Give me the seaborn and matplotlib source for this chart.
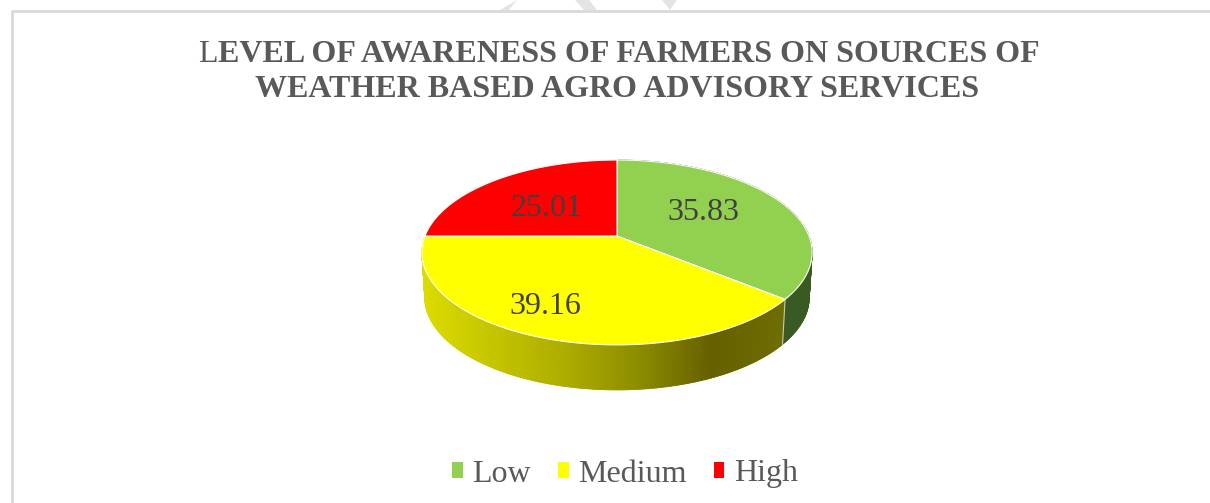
import numpy as np
import seaborn as sns
import matplotlib.pyplot as plt
from matplotlib.colors import LinearSegmentedColormap
from matplotlib.patches import Patch

# Data
categories = ["Low", "Medium", "High"]
values = [35.83, 39.16, 25.01]
slice_colors = ["#92D050", "#FFFF00", "#FF0000"]
title_line1 = "LEVEL OF AWARENESS OF FARMERS ON SOURCES OF"
title_line2 = "WEATHER BASED AGRO ADVISORY SERVICES"

TEXT_GREY = "#595959"
FRAME_GREY = "#D9D9D9"
SERIF = "Liberation Serif"

# pie geometry in image pixels, the tilt gives the near side more height
CX, CY = 617, 236
BX, AY, TILT = 192, 89.5, 0.178
DEPTH = 45

side_cmap = LinearSegmentedColormap.from_list(
    "side", ["#DCDC00", "#C4C400", "#ACAC00", "#8C8C00", "#666000", "#6E6E00"])


def top_ring(theta):
    # theta runs clockwise from 12 o'clock
    x, y = np.sin(theta), np.cos(theta)
    w = 1 + TILT * y
    return CX + BX * x / w, CY - AY * y / w


def bottom_ring(theta):
    x, y = top_ring(theta)
    return CX + (x - CX) * 0.985, y + DEPTH


def draw_side(ax, a0, a1, color=None):
    steps = np.linspace(a0, a1, max(int((a1 - a0) * 90), 2))
    for t0, t1 in zip(steps[:-1], steps[1:]):
        tt = np.array([t0, t1 + 0.003])
        xt, yt = top_ring(tt)
        xb, yb = bottom_ring(tt)
        c = color
        if c is None:
            c = side_cmap((xt.mean() - 420) / 365)
        ax.fill([xt[0], xt[1], xb[1], xb[0]], [yt[0], yt[1], yb[1], yb[0]],
                facecolor=c, edgecolor=c, lw=0.6, zorder=2)


sns.set_theme(style="white")
plt.rcParams["font.family"] = [SERIF, "DejaVu Serif"]

fig, ax = plt.subplots(figsize=(12.10, 5.03), dpi=100)
ax.set_position([0, 0, 1, 1])
ax.set_xlim(0, 1210)
ax.set_ylim(503, 0)
ax.axis("off")

# chart frame, only left and top show in the crop
ax.plot([12, 12, 1210], [503, 11, 11], color=FRAME_GREY, lw=2, zorder=1)

# watermark remains at the top edge
for px, py in [([500, 517, 509, 500], [10, 0, 10, 10]),
               ([575, 589, 597, 584], [0, 0, 10, 10]),
               ([662, 677, 670], [0, 0, 10])]:
    ax.fill(px, py, color="#E4E4E4", lw=0, zorder=1)

# slice angles from the values
edges = np.concatenate([[0], np.cumsum(values)]) / np.sum(values) * 2 * np.pi

# side wall: low is flat dark green, medium has the gradient
draw_side(ax, edges[0], edges[1], color="#3A5A24")
draw_side(ax, edges[1], edges[2])
ax.plot(*zip(top_ring(edges[1]), bottom_ring(edges[1])), color="#C8C8B0", lw=0.8, zorder=3)

# top face
for i, col in enumerate(slice_colors):
    tt = np.linspace(edges[i], edges[i + 1], 200)
    xr, yr = top_ring(tt)
    ax.fill(np.r_[CX, xr], np.r_[CY, yr], facecolor=col, edgecolor="white", lw=0.8, zorder=4)

# data labels
label_pos = [(703, 212), (545, 306), (547, 209)]
for v, (lx, ly) in zip(values, label_pos):
    ax.text(lx, ly, f"{v:.2f}", fontsize=23, color="#404040", ha="center", va="center",
            family=SERIF, zorder=5)

# title, the first L is not bold in the original
first = ax.text(198, 62, title_line1[0], fontsize=23, color=TEXT_GREY, family=SERIF,
                va="baseline", ha="left", zorder=5)
ax.annotate(title_line1[1:], xy=(1, 0), xycoords=first, xytext=(0, 0), textcoords="offset points",
            fontsize=23, fontweight="bold", color=TEXT_GREY, family=SERIF, va="bottom", ha="left")
ax.text(617, 97, title_line2, fontsize=23, fontweight="bold", color=TEXT_GREY, family=SERIF,
        ha="center", va="baseline", zorder=5)

handles = [Patch(facecolor=c, edgecolor="none") for c in slice_colors]
ax.legend(handles, categories, loc="center", bbox_to_anchor=(625 / 1210, 1 - 474 / 503),
          ncol=3, frameon=False, labelcolor=TEXT_GREY,
          handlelength=0.33, handleheight=0.35, handletextpad=0.3, columnspacing=0.85,
          borderpad=0, prop={"family": SERIF, "size": 23})

plt.savefig("out.png", dpi=100)
